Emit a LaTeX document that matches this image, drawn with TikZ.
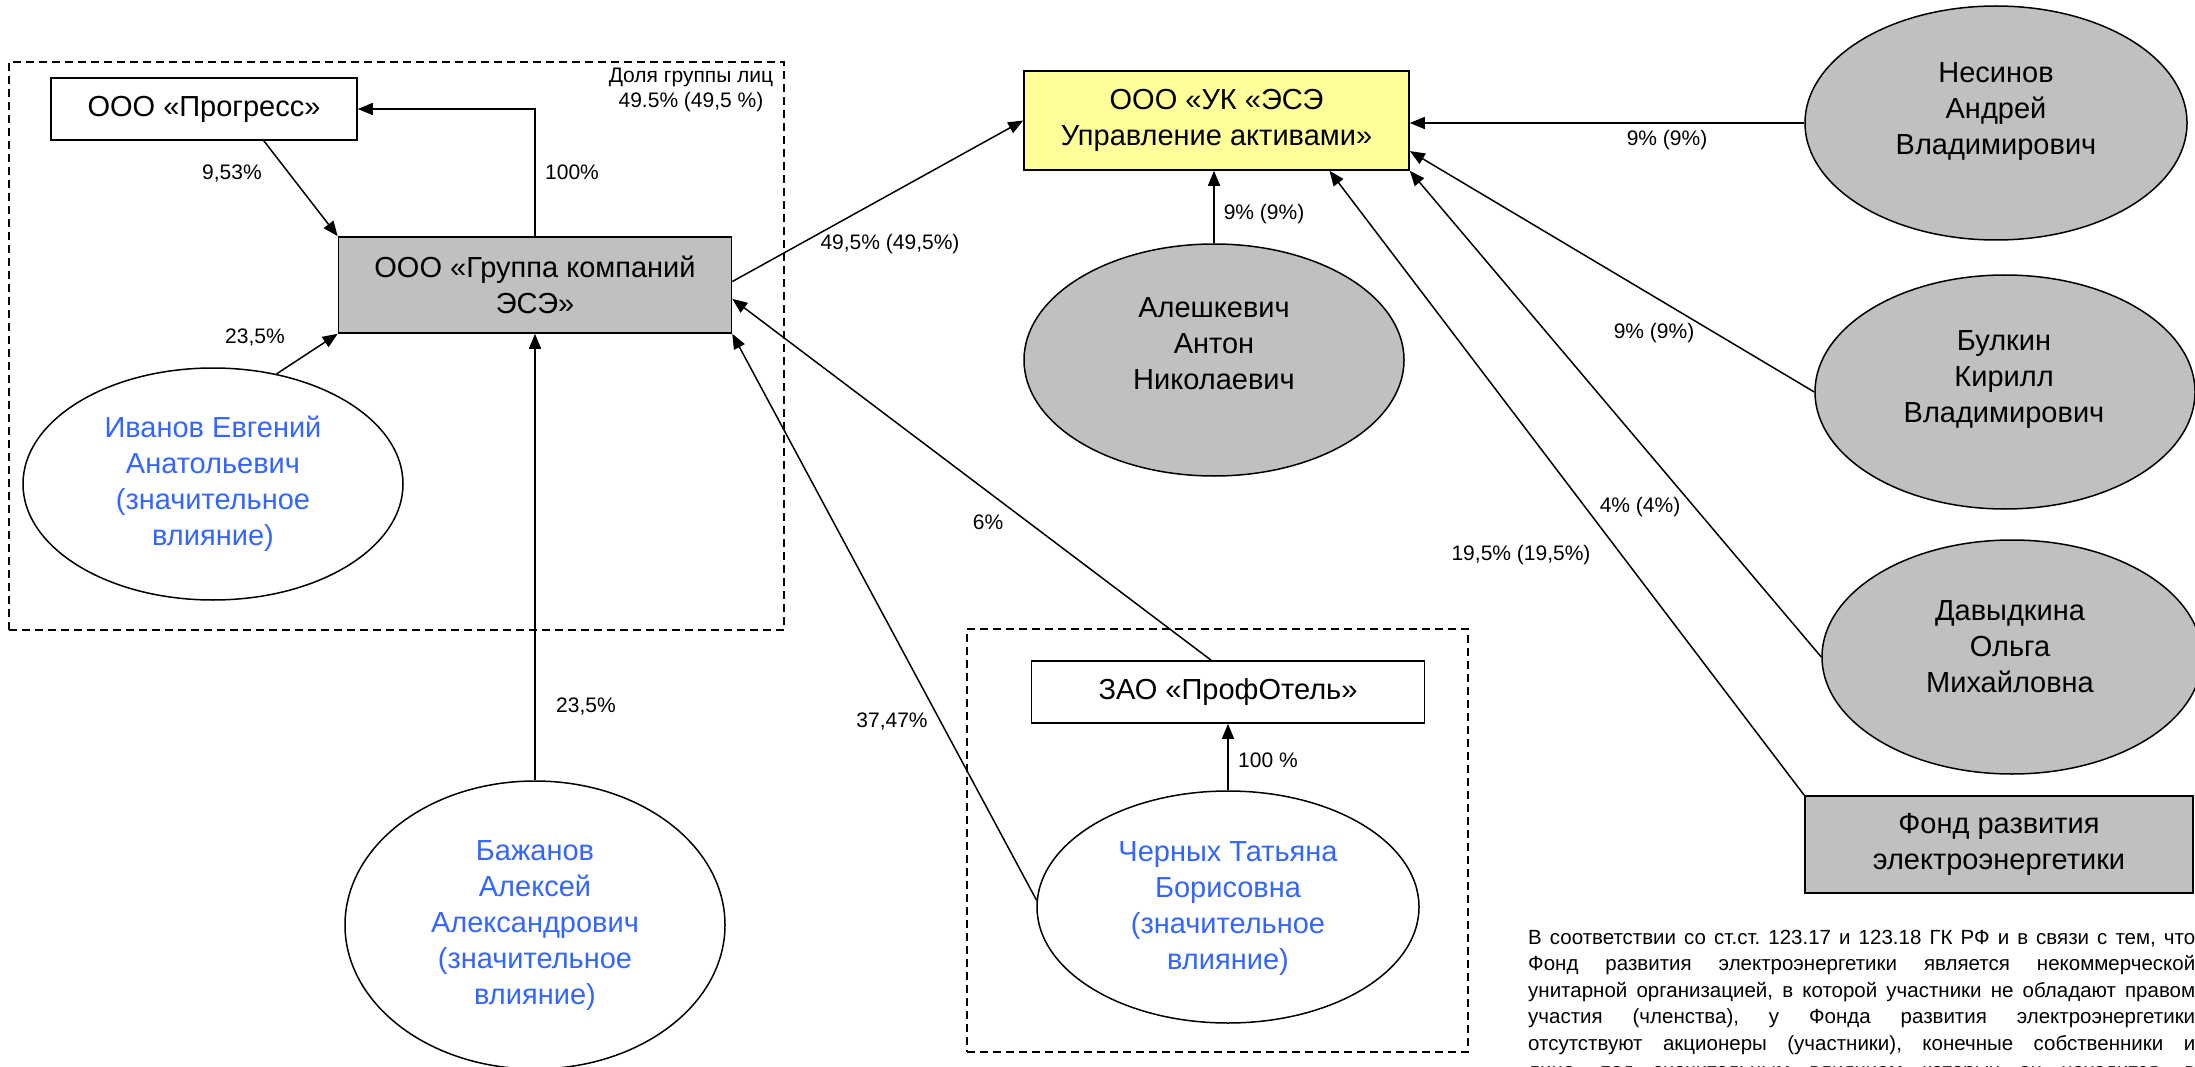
\documentclass[tikz,border=0pt]{standalone}
\usepackage{fontspec}
\setmainfont{Liberation Sans}
\usetikzlibrary{shapes.geometric,arrows.meta}
\definecolor{pblue}{RGB}{51,102,255}
\definecolor{gfill}{RGB}{192,192,192}
\definecolor{yfill}{RGB}{255,255,153}
\frenchspacing
\begin{document}
\begin{tikzpicture}[x=1pt,y=-1pt,
  box/.style={draw, line width=1.6pt, rectangle, inner sep=0pt, align=center, font=\fontsize{29}{36}\selectfont},
  pers/.style={draw, ellipse, line width=1.5pt, inner sep=0pt, minimum width=380pt, minimum height=232pt},
  gpers/.style={pers, fill=gfill},
  txt/.style={align=center, inner sep=0pt, font=\fontsize{29}{36}\selectfont},
  btxt/.style={txt, text=pblue},
  lbl/.style={inner sep=0pt, align=center, font=\fontsize{21}{25}\selectfont},
  conn/.style={line width=1.5pt},
  arr/.style={line width=1.5pt, -{Triangle[length=15pt,width=12pt]}},
  grp/.style={draw, dash pattern=on 8pt off 5pt, line width=1.6pt, rectangle, inner sep=0pt},
  ptxt/.style={inner sep=0pt, anchor=base west, font=\fontsize{20.5}{26}\selectfont}]
\path[use as bounding box] (0,0) rectangle (2195,1067);
\clip (0,0) rectangle (2195,1067);
\fill[white] (0,0) rectangle (2195,1067);

% group frames
\node[grp, minimum width=775pt, minimum height=568pt] (g1) at (396.5,346) {};
\node[grp, minimum width=501pt, minimum height=423pt] (g2) at (1217.5,840.5) {};

% boxes
\node[box, minimum width=306pt, minimum height=62pt] (prog) at (204,109) {ООО «Прогресс»};
\node[box, fill=gfill, minimum width=393pt, minimum height=96pt] (gk) at (535,285) {ООО «Группа компаний\\ЭСЭ»};
\node[box, fill=yfill, minimum width=385pt, minimum height=99pt] (uk) at (1216.5,120.5) {ООО «УК «ЭСЭ\\Управление активами»};
\node[box, minimum width=393pt, minimum height=62pt] (prof) at (1228,692) {ЗАО «ПрофОтель»};
\node[box, fill=gfill, minimum width=388pt, minimum height=97pt] (fond) at (1999,844.5) {Фонд развития\\электроэнергетики};

% persons with significant influence
\node[pers] (ivanov) at (213,484) {};
\node[btxt] (ivanovt) at (213,484) {Иванов Евгений\\Анатольевич\\(значительное\\влияние)};
\node[pers, minimum height=288pt] (bazh) at (535,925) {};
\node[btxt] (bazht) at (535,926) {Бажанов\\Алексей\\Александрович\\(значительное\\влияние)};
\node[pers, minimum width=382pt] (chern) at (1228,907) {};
\node[btxt] (chernt) at (1228,909) {Черных Татьяна\\Борисовна\\(значительное\\влияние)};

% gray persons
\node[gpers] (alesh) at (1214,360) {};
\node[txt] (alesht) at (1214,344) {Алешкевич\\Антон\\Николаевич};
\node[gpers, minimum width=382pt, minimum height=234pt] (nes) at (1996,123) {};
\node[txt] (nest) at (1996,112) {Несинов\\Андрей\\Владимирович};
\node[gpers, minimum height=234pt] (bulk) at (2005,392) {};
\node[txt] (bulkt) at (2004,380) {Булкин\\Кирилл\\Владимирович};
\node[gpers, minimum height=234pt] (davyd) at (2012,657) {};
\node[txt] (davydt) at (2010,647) {Давыдкина\\Ольга\\Михайловна};

% connectors
\draw[arr] (gk.north) |- (prog.east);
\draw[arr] (prog.-28.5) -- (gk.north west);
\draw[arr] (ivanov.60) -- (gk.south west);
\draw[arr] (bazh.north) -- (gk.south);
\draw[arr] (gk.1.5) -- (uk.west);
\draw[arr] (prof.118) -- (gk.-4.4);
\draw[arr] (chern.178) -- (gk.south east);
\draw[arr] (chern.north) -- (prof.south);
\draw[arr] (alesh.north) -- (uk.south -| alesh.north);
\draw[arr] (nes.west) -- (uk.east |- nes.west);
\draw[arr] (bulk.west) -- (uk.-9.3);
\draw[arr] (davyd.west) -- (uk.south east);
\draw[arr] (fond.north west) -- (uk.-24.5);

% labels
\node[lbl] (lgrp) at (691,90) {Доля группы лиц\\49.5\% (49,5 \%)};
\node[lbl] (l100) at (572,172) {100\%};
\node[lbl] (l953) at (232,174) {9,53\%};
\node[lbl] (l235a) at (255,338) {23,5\%};
\node[lbl] (l235b) at (586,707) {23,5\%};
\node[lbl] (l495) at (890,244) {49,5\% (49,5\%)};
\node[lbl] (l6) at (988,522) {6\%};
\node[lbl] (l3747) at (892,722) {37,47\%};
\node[lbl] (l100b) at (1268,760) {100 \%};
\node[lbl] (l9a) at (1264,214) {9\% (9\%)};
\node[lbl] (l9b) at (1667,140) {9\% (9\%)};
\node[lbl] (l9c) at (1654,333) {9\% (9\%)};
\node[lbl] (l4) at (1640,507) {4\% (4\%)};
\node[lbl] (l195) at (1521,555) {19,5\% (19,5\%)};

% note
\node[ptxt] (p1) at (1528,944) {\makebox[667pt][s]{В соответствии со ст.ст. 123.17 и 123.18 ГК РФ и в связи с тем, что}};
\node[ptxt] (p2) at (1528,970.6) {\makebox[667pt][s]{Фонд развития электроэнергетики является некоммерческой}};
\node[ptxt] (p3) at (1528,997.2) {\makebox[667pt][s]{унитарной организацией, в которой участники не обладают правом}};
\node[ptxt] (p4) at (1528,1023.8) {\makebox[667pt][s]{участия (членства), у Фонда развития электроэнергетики}};
\node[ptxt] (p5) at (1528,1050.4) {\makebox[667pt][s]{отсутствуют акционеры (участники), конечные собственники и}};
\node[ptxt] (p6) at (1528,1077) {\makebox[667pt][s]{лица, под значительным влиянием которых он находится, в}};
\end{tikzpicture}
\end{document}
